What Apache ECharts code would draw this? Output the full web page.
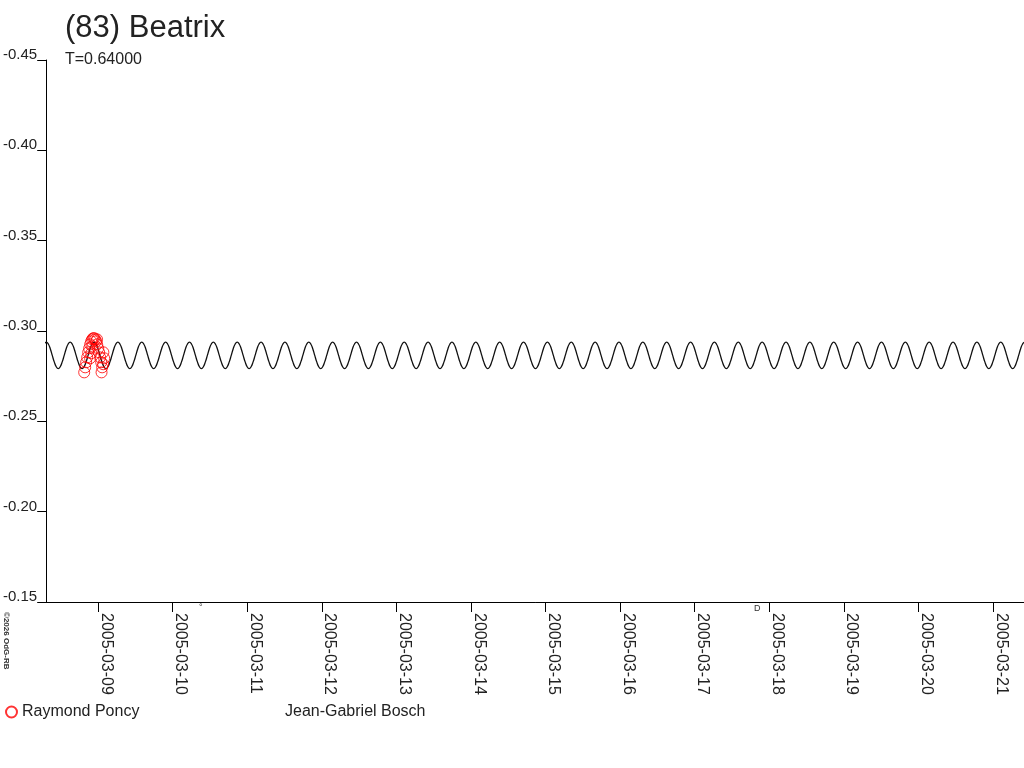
<!DOCTYPE html>
<html>
<head>
<meta charset="utf-8">
<title>(83) Beatrix</title>
<script src="https://cdn.jsdelivr.net/npm/echarts@6/dist/echarts.min.js"></script>
<style>
  html, body { margin: 0; padding: 0; background: #fff; }
  #chart { width: 1024px; height: 768px; }
</style>
</head>
<body>
<div id="chart"></div>
<script>
// axis range and ticks
const xStart = '2005-03-08T07:16:00Z'
const xEnd = '2005-03-21T09:59:00Z'
const tickDates = ['2005-03-09', '2005-03-10', '2005-03-11', '2005-03-12', '2005-03-13', '2005-03-14',
  '2005-03-15', '2005-03-16', '2005-03-17', '2005-03-18', '2005-03-19', '2005-03-20', '2005-03-21']

// Raymond Poncy observations (UT, reduced magnitude)
const poncyTimes = [
  '2005-03-08T19:30:00Z', '2005-03-08T19:49:00Z', '2005-03-08T20:08:00Z', '2005-03-08T20:28:00Z',
  '2005-03-08T20:47:00Z', '2005-03-08T21:06:00Z', '2005-03-08T21:26:00Z', '2005-03-08T21:45:00Z',
  '2005-03-08T22:04:00Z', '2005-03-08T22:23:00Z', '2005-03-08T22:43:00Z', '2005-03-08T23:02:00Z',
  '2005-03-08T23:22:00Z', '2005-03-08T23:41:00Z', '2005-03-09T00:00:00Z', '2005-03-09T00:19:00Z',
  '2005-03-09T00:39:00Z', '2005-03-09T00:58:00Z', '2005-03-09T01:05:00Z', '2005-03-09T01:17:00Z',
  '2005-03-09T01:37:00Z', '2005-03-09T01:56:00Z', '2005-03-09T01:40:00Z', '2005-03-08T21:24:00Z',
  '2005-03-08T21:47:00Z', '2005-03-08T23:38:00Z', '2005-03-08T22:06:00Z'
]
const poncyMags = [
  -0.2771, -0.2799, -0.2827, -0.2854,
  -0.2882, -0.2904, -0.2926, -0.2943,
  -0.2954, -0.2960, -0.2960, -0.2954,
  -0.2943, -0.2926, -0.2904, -0.2882,
  -0.2854, -0.2827, -0.2771, -0.2799,
  -0.2816, -0.2849, -0.2882, -0.2849,
  -0.2877, -0.2954, -0.2915
]

// model light curve: one rotation (T = 0.64 d) sampled in 24 phase steps
const periodDays = 0.64
const curveEpoch = '2005-03-08T14:59:00Z'
const curveShape = [
  -0.2938, -0.2928, -0.2902, -0.2865, -0.2829, -0.2802, -0.2792, -0.2802, -0.2829, -0.2865, -0.2902, -0.2928,
  -0.2938, -0.2928, -0.2902, -0.2865, -0.2829, -0.2802, -0.2792, -0.2802, -0.2829, -0.2865, -0.2902, -0.2928
]

const DAY = 86400000
const xMin = Date.parse(xStart)
const xMax = Date.parse(xEnd)
const tickValues = tickDates.map(d => Date.parse(d))

// repeat the sampled rotation over the whole time range
let curveData = []
const t0 = Date.parse(curveEpoch)
const step = periodDays * DAY / curveShape.length
for (let k = -1; t0 + k * periodDays * DAY < xMax + periodDays * DAY; k++) {
  curveShape.forEach((v, i) => {
    curveData.push([t0 + k * periodDays * DAY + i * step, v])
  })
}

const poncyData = poncyTimes.map((t, i) => [Date.parse(t), poncyMags[i]])

const FONT = "'Liberation Sans', Arial, sans-serif"
const TEXT = '#222'

const chart = echarts.init(document.getElementById('chart'))

const option = {
  animation: false,
  backgroundColor: '#fff',
  textStyle: { fontFamily: FONT },
  title: {
    text: '(83) Beatrix',
    subtext: 'T=0.64000',
    left: 60,
    top: 8,
    itemGap: 8,
    textStyle: { fontSize: 31, fontWeight: 'normal', color: TEXT, fontFamily: FONT },
    subtextStyle: { fontSize: 16, color: TEXT, fontFamily: FONT }
  },
  legend: [{
    data: ['Raymond Poncy'],
    left: 5,
    top: 704,
    padding: 0,
    itemWidth: 11,
    itemHeight: 11,
    textStyle: { fontSize: 16, color: TEXT, fontFamily: FONT }
  }, {
    data: ['Jean-Gabriel Bosch'],
    left: 280,
    top: 704,
    padding: 0,
    icon: 'none',
    itemWidth: 0,
    textStyle: { fontSize: 16, color: TEXT, fontFamily: FONT }
  }],
  grid: { left: 46, right: 0, top: 60, bottom: 166 },
  xAxis: {
    type: 'value',
    min: xMin,
    max: xMax,
    axisLine: { onZero: false, lineStyle: { color: '#000', width: 1 } },
    axisTick: { show: true, length: 10, customValues: tickValues, lineStyle: { color: '#000' } },
    axisLabel: {
      customValues: tickValues,
      rotate: -90,
      margin: 11,
      verticalAlign: 'bottom',
      fontSize: 16,
      color: TEXT,
      fontFamily: FONT,
      formatter: v => new Date(v).toISOString().slice(0, 10)
    },
    splitLine: { show: false }
  },
  yAxis: {
    type: 'value',
    inverse: true,
    min: -0.45,
    max: -0.15,
    interval: 0.05,
    axisLine: { show: true, lineStyle: { color: '#000', width: 1 } },
    axisTick: { show: true, length: 9, lineStyle: { color: '#000' } },
    axisLabel: {
      margin: 9,
      verticalAlign: 'bottom',
      lineHeight: 10,
      fontSize: 15,
      color: TEXT,
      fontFamily: FONT,
      formatter: v => v.toFixed(2)
    },
    splitLine: { show: false }
  },
  series: [{
    name: 'model',
    type: 'line',
    data: curveData,
    smooth: true,
    showSymbol: false,
    silent: true,
    clip: true,
    lineStyle: { color: '#111', width: 1.3 },
    z: 2
  }, {
    name: 'Raymond Poncy',
    type: 'scatter',
    data: poncyData,
    symbol: 'circle',
    symbolSize: 11,
    itemStyle: { color: 'rgba(255,255,255,0)', borderColor: '#f00', borderWidth: 1 },
    z: 3
  }, {
    name: 'Jean-Gabriel Bosch',
    type: 'scatter',
    data: [],
    itemStyle: { color: '#00a' }
  }],
  graphic: [{
    type: 'text',
    x: 10,
    y: 612,
    rotation: -Math.PI / 2,
    style: { text: '\u00a92026 OdG-RB', font: "bold 8px " + FONT, fill: '#333' }
  }, {
    type: 'text',
    x: 199,
    y: 603,
    style: { text: '\u00b0', font: "9px " + FONT, fill: '#333' }
  }, {
    type: 'text',
    x: 754,
    y: 604,
    style: { text: 'D', font: "9px " + FONT, fill: '#333' }
  }]
}

chart.setOption(option)
</script>
</body>
</html>
